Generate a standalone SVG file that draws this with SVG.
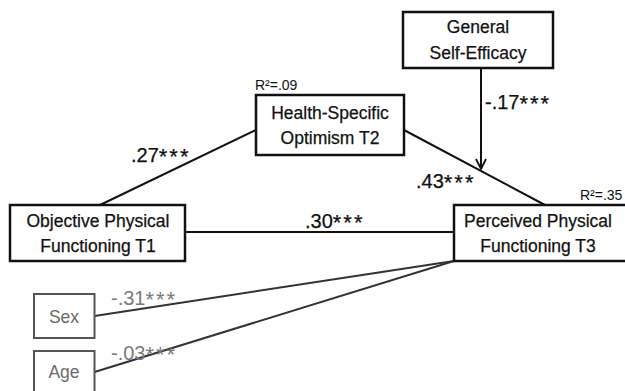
<svg xmlns="http://www.w3.org/2000/svg" width="625" height="391" viewBox="0 0 625 391">
<style>
.box{fill:#fff;stroke:#111;stroke-width:2.5}
.gbox{fill:#fff;stroke:#555;stroke-width:2}
.t{font-family:"Liberation Sans",Arial,sans-serif;font-size:17.5px;fill:#111;stroke:#111;stroke-width:0.25;text-anchor:middle}
.g{font-family:"Liberation Sans",Arial,sans-serif;font-size:17.5px;fill:#6a6a6a;text-anchor:middle}
.lab{font-family:"Liberation Sans",Arial,sans-serif;font-size:20px;fill:#111;stroke:#111;stroke-width:0.25}
.glab{font-family:"Liberation Sans",Arial,sans-serif;font-size:20px;fill:#7a7a7a}
.st{font-size:22px;letter-spacing:2px}
.r2{font-family:"Liberation Sans",Arial,sans-serif;font-size:14px;fill:#111}
.ln{stroke:#111;stroke-width:2;fill:none}
.gln{stroke:#333;stroke-width:2;fill:none}
</style>
<defs>
<marker id="arr" viewBox="0 0 12 12" refX="11" refY="6" markerWidth="12" markerHeight="12" markerUnits="userSpaceOnUse" orient="auto">
<path d="M1,1 L11,6 L1,11" fill="none" stroke="#111" stroke-width="1.8"/>
</marker>
</defs>
<g id="connectors">
<line class="ln" x1="100" y1="205" x2="256" y2="130"/>
<line class="ln" x1="404" y1="130" x2="545" y2="205"/>
<line class="ln" x1="185" y1="232" x2="454" y2="232"/>
<line class="ln" x1="481" y1="68" x2="481" y2="169" marker-end="url(#arr)"/>
<line class="gln" x1="94.5" y1="316" x2="454" y2="261"/>
<line class="gln" x1="94.5" y1="372" x2="454" y2="261"/>
<text class="lab" x="131" y="162">.27<tspan class="st" dy="1.5">***</tspan></text>
<text class="lab" x="416" y="188">.43<tspan class="st" dy="1.5">***</tspan></text>
<text class="lab" x="485" y="109">-.17<tspan class="st" dy="1.5">***</tspan></text>
<text class="lab" x="305" y="228">.30<tspan class="st" dy="1.5">***</tspan></text>
<text class="glab" x="111" y="305">-.31<tspan class="st" dy="1.5">***</tspan></text>
<text class="glab" x="111" y="360">-.03<tspan class="st" dy="1.5">***</tspan></text>
</g>
<g id="general">
<rect class="box" x="403" y="12" width="150" height="56"/>
<text class="t" x="478" y="33">General</text>
<text class="t" x="478" y="59">Self-Efficacy</text>
</g>
<g id="optimism">
<text class="r2" x="255" y="90">R²=.09</text>
<rect class="box" x="256" y="95" width="148" height="60"/>
<text class="t" x="330" y="119">Health-Specific</text>
<text class="t" x="330" y="144">Optimism T2</text>
</g>
<g id="objective">
<rect class="box" x="10" y="205" width="175" height="56"/>
<text class="t" x="98" y="227">Objective Physical</text>
<text class="t" x="98" y="252">Functioning T1</text>
</g>
<g id="perceived">
<text class="r2" x="580" y="200">R²=.35</text>
<rect class="box" x="454" y="205" width="180" height="56"/>
<text class="t" x="538" y="227">Perceived Physical</text>
<text class="t" x="538" y="252">Functioning T3</text>
</g>
<g id="sex">
<rect class="gbox" x="34" y="294" width="60.5" height="44"/>
<text class="g" x="64" y="323">Sex</text>
</g>
<g id="age">
<rect class="gbox" x="34" y="351" width="60.5" height="50"/>
<text class="g" x="64" y="378">Age</text>
</g>
</svg>
